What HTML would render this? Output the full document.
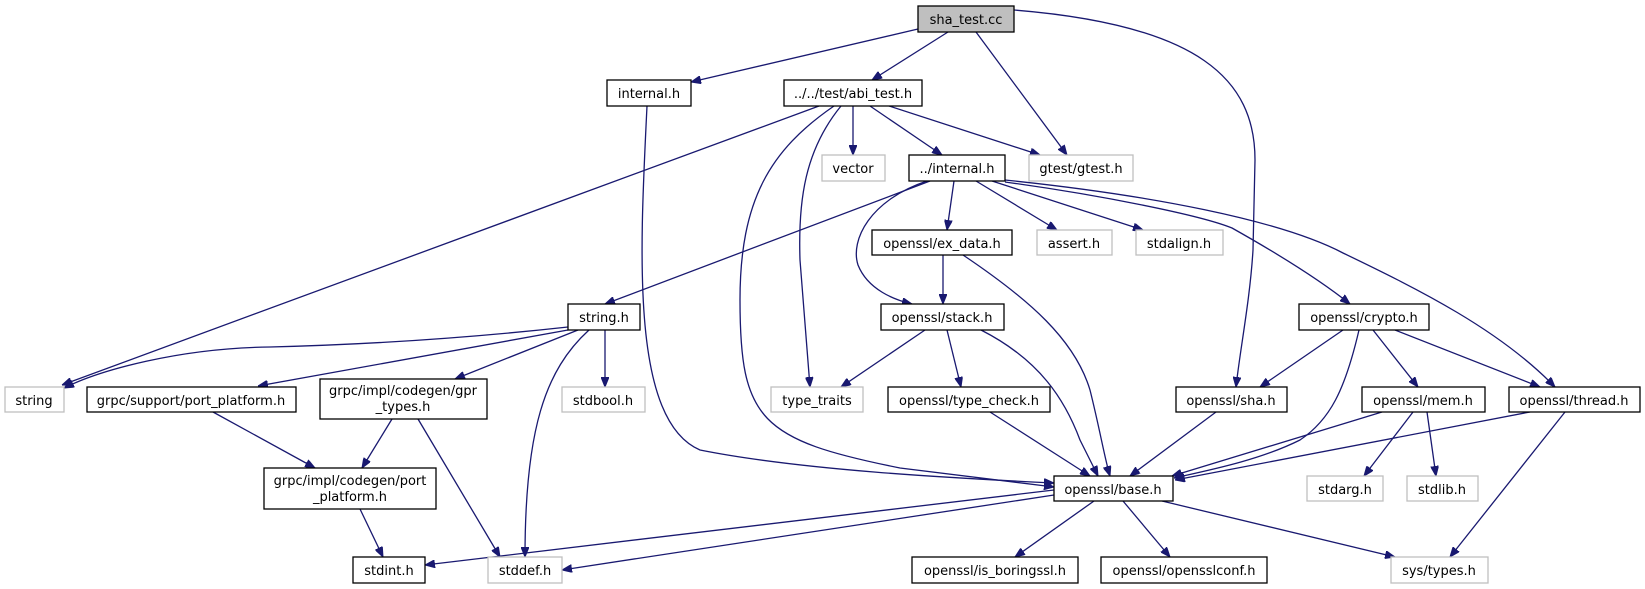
<!DOCTYPE html>
<html><head><meta charset="utf-8"><style>
html,body{margin:0;padding:0;background:#fff;}
svg{display:block;}
text{font-family:"DejaVu Sans","Liberation Sans",sans-serif;font-size:13px;fill:#000;text-anchor:middle;}
.e{fill:none;stroke:#191970;stroke-width:1.3;}
.b{fill:#fff;stroke:#000;stroke-width:1.3;}
.g{fill:#fff;stroke:#bfbfbf;stroke-width:1.3;}
</style></head><body>
<svg width="1645" height="589" viewBox="0 0 1645 589" xmlns="http://www.w3.org/2000/svg">
<defs><marker id="a" viewBox="0 0 10 8" refX="10" refY="4" markerWidth="10" markerHeight="8" markerUnits="userSpaceOnUse" orient="auto"><path d="M0,0 L10,4 L0,8 z" fill="#191970" stroke="#191970"/></marker></defs>
<g marker-end="url(#a)">
<path class="e" d="M918,29 L691,82"/>
<path class="e" d="M948,32 L872,80"/>
<path class="e" d="M976,32 L1067,155"/>
<path class="e" d="M1014,10 C1200,25 1255,80 1255,160 L1253,250 C1250,300 1240,350 1236,387"/>
<path class="e" d="M647,106 C640,250 630,420 700,450 C800,470 950,478 1054,483"/>
<path class="e" d="M819,106 L62,385"/>
<path class="e" d="M834,106 C770,150 740,200 740,300 C740,420 760,440 900,468 L1054,487"/>
<path class="e" d="M841,106 C805,150 798,200 800,260 L810,387"/>
<path class="e" d="M853,106 L853,155"/>
<path class="e" d="M870,106 L942,155"/>
<path class="e" d="M889,106 L1040,155"/>
<path class="e" d="M930,181 L605,304"/>
<path class="e" d="M927,181 C870,200 850,240 858,265 C868,290 895,300 912,304"/>
<path class="e" d="M954,181 L947,230"/>
<path class="e" d="M976,181 L1057,230"/>
<path class="e" d="M992,181 L1143,230"/>
<path class="e" d="M1005,182 C1100,195 1200,215 1232,228 C1280,255 1320,280 1350,304"/>
<path class="e" d="M1005,180 C1150,195 1280,220 1343,253 C1420,290 1500,330 1555,387"/>
<path class="e" d="M943,255 L943,304"/>
<path class="e" d="M963,255 C1030,300 1075,340 1090,390 C1100,430 1105,460 1110,476"/>
<path class="e" d="M925,330 L841,387"/>
<path class="e" d="M947,330 L961,387"/>
<path class="e" d="M981,330 C1040,360 1065,400 1080,440 L1098,476"/>
<path class="e" d="M990,412 L1090,476"/>
<path class="e" d="M1216,412 L1130,476"/>
<path class="e" d="M1343,330 L1260,387"/>
<path class="e" d="M1359,330 C1345,390 1330,420 1300,440 C1260,460 1210,470 1174,478"/>
<path class="e" d="M1373,330 L1418,387"/>
<path class="e" d="M1395,330 L1540,387"/>
<path class="e" d="M1382,412 L1172,476"/>
<path class="e" d="M1413,412 L1364,476"/>
<path class="e" d="M1427,412 L1436,476"/>
<path class="e" d="M1530,412 L1175,480"/>
<path class="e" d="M1565,412 L1450,557"/>
<path class="e" d="M1054,490 L425,565"/>
<path class="e" d="M1054,495 L562,570"/>
<path class="e" d="M1094,501 L1015,557"/>
<path class="e" d="M1123,501 L1170,557"/>
<path class="e" d="M1162,501 L1395,557"/>
<path class="e" d="M568,327 C450,340 350,345 270,347 C180,348 100,370 64,388"/>
<path class="e" d="M568,330 L258,386"/>
<path class="e" d="M578,330 L455,379"/>
<path class="e" d="M605,330 L605,387"/>
<path class="e" d="M589,330 C545,370 525,430 525,557"/>
<path class="e" d="M213,412 L315,468"/>
<path class="e" d="M392,419 L362,468"/>
<path class="e" d="M418,419 L500,557"/>
<path class="e" d="M360,509 L383,557"/>
</g>
<rect x="918" y="6" width="96" height="26" fill="#bfbfbf" stroke="#000" stroke-width="1.3"/><text x="966" y="24">sha_test.cc</text>
<rect class="b" x="607" y="80" width="84" height="26"/><text x="649" y="98">internal.h</text>
<rect class="b" x="784" y="80" width="138" height="26"/><text x="853" y="98">../../test/abi_test.h</text>
<rect class="g" x="822" y="155" width="63" height="26"/><text x="853" y="173">vector</text>
<rect class="b" x="909" y="155" width="96" height="26"/><text x="957" y="173">../internal.h</text>
<rect class="g" x="1029" y="155" width="104" height="26"/><text x="1081" y="173">gtest/gtest.h</text>
<rect class="b" x="872" y="230" width="140" height="25"/><text x="942" y="248">openssl/ex_data.h</text>
<rect class="g" x="1037" y="230" width="75" height="25"/><text x="1074" y="248">assert.h</text>
<rect class="g" x="1136" y="230" width="87" height="25"/><text x="1179" y="248">stdalign.h</text>
<rect class="b" x="568" y="304" width="72" height="26"/><text x="604" y="322">string.h</text>
<rect class="b" x="881" y="304" width="123" height="26"/><text x="942" y="322">openssl/stack.h</text>
<rect class="b" x="1299" y="304" width="130" height="26"/><text x="1364" y="322">openssl/crypto.h</text>
<rect class="g" x="5" y="387" width="59" height="25"/><text x="34" y="405">string</text>
<rect class="b" x="87" y="387" width="209" height="25"/><text x="191" y="405">grpc/support/port_platform.h</text>
<rect class="b" x="320" y="379" width="167" height="40"/><text x="403" y="395">grpc/impl/codegen/gpr</text><text x="403" y="411">_types.h</text>
<rect class="g" x="562" y="387" width="83" height="25"/><text x="603" y="405">stdbool.h</text>
<rect class="g" x="771" y="387" width="92" height="25"/><text x="817" y="405">type_traits</text>
<rect class="b" x="888" y="387" width="162" height="25"/><text x="969" y="405">openssl/type_check.h</text>
<rect class="b" x="1176" y="387" width="111" height="25"/><text x="1231" y="405">openssl/sha.h</text>
<rect class="b" x="1362" y="387" width="123" height="25"/><text x="1423" y="405">openssl/mem.h</text>
<rect class="b" x="1509" y="387" width="131" height="25"/><text x="1574" y="405">openssl/thread.h</text>
<rect class="b" x="264" y="468" width="172" height="41"/><text x="350" y="485">grpc/impl/codegen/port</text><text x="350" y="501">_platform.h</text>
<rect class="b" x="1054" y="476" width="119" height="25"/><text x="1113" y="494">openssl/base.h</text>
<rect class="g" x="1307" y="476" width="76" height="25"/><text x="1345" y="494">stdarg.h</text>
<rect class="g" x="1407" y="476" width="71" height="25"/><text x="1442" y="494">stdlib.h</text>
<rect class="b" x="353" y="557" width="72" height="26"/><text x="389" y="575">stdint.h</text>
<rect class="g" x="488" y="557" width="74" height="26"/><text x="525" y="575">stddef.h</text>
<rect class="b" x="912" y="557" width="166" height="26"/><text x="995" y="575">openssl/is_boringssl.h</text>
<rect class="b" x="1101" y="557" width="166" height="26"/><text x="1184" y="575">openssl/opensslconf.h</text>
<rect class="g" x="1391" y="557" width="97" height="26"/><text x="1439" y="575">sys/types.h</text>
</svg>
</body></html>
